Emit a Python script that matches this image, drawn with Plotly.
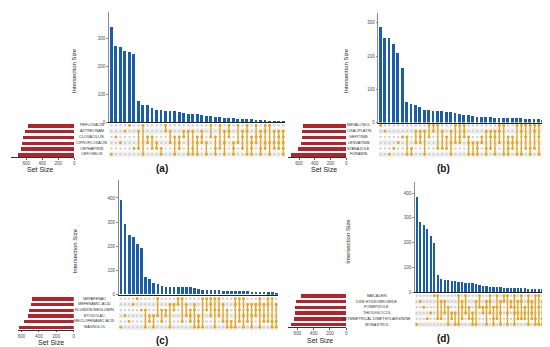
import plotly.graph_objects as go

W, H = 550, 347

# ---------------- data ----------------
a_sets = ["PEFLOXACIN", "AZTREONAM", "CLOXACILLIN", "CIPROFLOXACIN", "CEPHAPIRIN", "CEFOSELIS"]
a_set_sizes = [581, 613, 634, 647, 663, 697]
a_inter = [342, 274, 270, 256, 251, 244, 75, 63, 60, 50, 43, 43, 40, 40, 38, 36, 31, 30, 30, 30,
           26, 23, 21, 18, 17, 16, 14, 13, 12, 11, 11, 10, 8, 8, 8, 4, 3, 2, 2]
a_combos = [[5], [2], [3], [1], [0], [4],
            [1, 4], [0, 5], [2, 3], [2, 4], [3, 4], [4, 5], [0, 1], [1, 3], [2, 5], [2, 3, 4],
            [1, 2], [1, 5], [1, 4, 5], [2, 3, 5], [1, 2, 3], [3, 5], [0, 2], [2, 4, 5], [0, 4],
            [1, 3, 5], [0, 1, 2], [3, 4, 5], [0, 3], [1, 2, 4], [0, 1, 5], [2, 3, 4, 5], [0, 2, 3],
            [1, 2, 4, 5], [0, 1, 3, 4], [0, 3, 5], [1, 3, 4], [1, 2, 3, 4], [1, 2, 3, 4, 5]]

b_sets = ["MEVALONOL", "OXALIPLATIN", "GEFITINIB", "LENVATINIB", "STANAZOLE", "FURAMIN"]
b_set_sizes = [552, 560, 568, 573, 618, 706]
b_inter = [287, 255, 255, 238, 211, 163, 63, 56, 52, 46, 39, 38, 36, 36, 36, 33, 33, 30, 26, 22,
           22, 21, 18, 18, 17, 17, 15, 14, 14, 14, 14, 13, 13, 12, 12, 11, 10, 9, 9]
b_combos = [[0], [1], [5], [4], [3], [2],
            [2, 5], [4, 5], [1, 3], [1, 2, 3], [1, 5], [0, 2], [0, 1], [0, 4], [1, 4], [2, 4],
            [1, 3, 5], [0, 3], [0, 2, 3], [0, 1, 2], [2, 3, 5], [3, 5], [3, 4, 5], [2, 3],
            [1, 4, 5], [1, 2, 4], [1, 2, 5], [0, 1, 3], [0, 5], [2, 3, 4, 5], [2, 3, 4], [0, 3, 5],
            [0, 1, 5], [0, 2, 4], [0, 4, 5], [0, 1, 4], [0, 2, 5], [1, 2], [2, 4, 5]]

c_sets = ["NEPAFENAC", "MEFENAMIC ACID", "FLUNIXIN MEGLUMIN", "ETODOLAC", "MECLOFENAMIC ACID", "MAGNOLOL"]
c_set_sizes = [476, 491, 511, 522, 568, 629]
c_inter = [391, 291, 246, 236, 206, 192, 71, 62, 45, 44, 33, 31, 31, 31, 31, 31, 30, 30, 25, 20,
           19, 19, 17, 17, 16, 15, 14, 14, 13, 13, 12, 12, 11, 10, 10, 9, 8, 8, 7]
c_combos = [[5], [3], [4], [1], [0], [2],
            [2, 5], [3, 4], [3, 5], [0, 3], [2, 4], [2, 3], [1, 5], [1, 2], [0, 1], [0, 4], [1, 3],
            [2, 3, 4], [1, 2, 5], [3, 4, 5], [0, 5], [0, 2], [0, 1, 3], [0, 2, 5], [0, 2, 3],
            [1, 4], [2, 4, 5], [4, 5], [0, 1, 5], [0, 2, 4], [0, 3, 5], [1, 2, 4], [1, 3, 5],
            [1, 2, 3], [0, 1, 2, 5], [1, 3, 4], [0, 1, 4], [0, 4, 5], [1, 4, 5]]

d_sets = ["BAICALEIN", "DXM HYDROBROMIDE", "FOMEPIZOLE", "THIODIGLYCOL",
          "ASYMMETRICAL DIMETHYLARGININE", "MONASTROL"]
d_set_sizes = [551, 620, 633, 633, 640, 682]
d_inter = [384, 280, 268, 253, 226, 197, 68, 51, 49, 47, 45, 44, 39, 38, 37, 36, 35, 31, 26, 23,
           22, 21, 20, 19, 18, 17, 16, 16, 15, 15, 14, 14, 13, 13, 12, 12, 11, 11, 10]
d_combos = [[5], [1], [2], [4], [3], [0],
            [0, 4], [1, 4], [1, 3], [2, 5], [3, 4], [3, 5], [0, 5], [1, 2, 4], [0, 3], [2, 4],
            [3, 4, 5], [1, 5], [0, 2], [2, 3], [1, 2, 5], [0, 1, 3], [2, 4, 5], [0, 2, 4],
            [1, 3, 5], [0, 1], [0, 3, 5], [1, 2], [0, 2, 3, 5], [1, 3, 4], [0, 1, 4], [2, 3, 4],
            [0, 1, 5], [1, 2, 3, 4], [0, 4, 5], [0, 2, 5], [1, 4, 5], [2, 3, 5], [0, 1, 2, 3, 4]]

tags = ["(a)", "(b)", "(c)", "(d)"]
bar_ticks = [[0, 100, 200, 300], [0, 100, 200, 300], [0, 100, 200, 300, 400], [0, 100, 200, 300, 400]]
set_ticks = [0, 200, 400, 600]

# ---------------- layout geometry (pixels) ----------------
specs = [
    dict(bar_x=(101.5, 278.5), bar_y=(4, 115), ymax=396, mat_y=(115.5, 150.5), set_x=(3, 66.5), smax=790,
         label_x=84, ytitle=(67, 63), stitle=(31.7, 163), tag=(155, 162)),
    dict(bar_x=(371.8, 543.9), bar_y=(5, 115.5), ymax=330, mat_y=(115.5, 150.5), set_x=(281, 339.5), smax=740,
         label_x=352, ytitle=(340, 63), stitle=(316.7, 163), tag=(436.7, 162)),
    dict(bar_x=(111.2, 271.2), bar_y=(174, 289.3), ymax=472, mat_y=(290.4, 324.8), set_x=(10, 66), smax=641,
         label_x=87, ytitle=(66.7, 245), stitle=(42.7, 337.5), tag=(155, 335)),
    dict(bar_x=(408.5, 545), bar_y=(176, 286.7), ymax=443, mat_y=(287.4, 322.2), set_x=(281, 339.5), smax=716,
         label_x=370, ytitle=(341, 235), stitle=(313.3, 335.5), tag=(436.7, 333)),
]

panels = [
    (a_sets, a_set_sizes, a_inter, a_combos),
    (b_sets, b_set_sizes, b_inter, b_combos),
    (c_sets, c_set_sizes, c_inter, c_combos),
    (d_sets, d_set_sizes, d_inter, d_combos),
]

BLUE = "#1C5DA8"
RED = "#B2242B"
ORANGE = "#E6A51C"
GREYDOT = "#D3D3D3"
SHADE = "#F0F0F0"
TICKC = "#4D4D4D"
FONT = "Liberation Sans, Arial, sans-serif"


def px_x(a, b):
    return [a / W, b / W]


def px_y(top, bottom):
    return [1 - bottom / H, 1 - top / H]


def ax_names(k):
    return ("x" if k == 1 else f"x{k}", "y" if k == 1 else f"y{k}",
            "xaxis" if k == 1 else f"xaxis{k}", "yaxis" if k == 1 else f"yaxis{k}")


fig = go.Figure()
layout = {}
shapes = []
annotations = []

for p, (sets, sizes, inter, combos) in enumerate(panels):
    sp = specs[p]
    n = len(inter)
    nsets = len(sets)
    kb, km, ks = 3 * p + 1, 3 * p + 2, 3 * p + 3
    xb, yb, XB, YB = ax_names(kb)
    xm, ym, XM, YM = ax_names(km)
    xs, ys, XS, YS = ax_names(ks)

    # intersection bars
    fig.add_trace(go.Bar(x=list(range(n)), y=inter, width=0.64, marker=dict(color=BLUE, line=dict(width=0)),
                         xaxis=xb, yaxis=yb, hoverinfo="skip"))
    layout[XB] = dict(domain=px_x(*sp["bar_x"]), range=[-0.5, n - 0.5], anchor=yb, showgrid=False,
                      zeroline=False, showticklabels=False, ticks="", showline=True, linecolor="#222222",
                      linewidth=1)
    layout[YB] = dict(domain=px_y(*sp["bar_y"]), range=[0, sp["ymax"]], anchor=xb, showgrid=False,
                      zeroline=False, showline=True, linecolor="#8a8a8a", linewidth=0.8, ticks="outside",
                      ticklen=2, tickwidth=0.6, tickcolor="#8a8a8a", tickvals=bar_ticks[p],
                      tickfont=dict(size=4.5, color=TICKC, family=FONT))

    # matrix
    layout[XM] = dict(domain=px_x(*sp["bar_x"]), range=[-0.5, n - 0.5], anchor=ym, visible=False)
    layout[YM] = dict(domain=px_y(*sp["mat_y"]), range=[nsets - 0.5, -0.5], anchor=xm, visible=False)
    for r in range(nsets):
        if r % 2 == 1:
            shapes.append(dict(type="rect", xref=xm, yref=ym, x0=-0.5, x1=n - 0.5, y0=r - 0.5, y1=r + 0.5,
                               fillcolor=SHADE, line=dict(width=0), layer="below"))
    gx = [c for c in range(n) for r in range(nsets)]
    gy = [r for c in range(n) for r in range(nsets)]
    fig.add_trace(go.Scatter(x=gx, y=gy, mode="markers", marker=dict(size=2.6, color=GREYDOT),
                             xaxis=xm, yaxis=ym, hoverinfo="skip"))
    lx, ly = [], []
    for c, combo in enumerate(combos):
        if len(combo) > 1:
            lx += [c, c, None]
            ly += [min(combo), max(combo), None]
    fig.add_trace(go.Scatter(x=lx, y=ly, mode="lines", line=dict(color=ORANGE, width=1.3),
                             xaxis=xm, yaxis=ym, hoverinfo="skip"))
    ax_ = [c for c, combo in enumerate(combos) for r in combo]
    ay_ = [r for c, combo in enumerate(combos) for r in combo]
    fig.add_trace(go.Scatter(x=ax_, y=ay_, mode="markers", marker=dict(size=2.9, color=ORANGE),
                             xaxis=xm, yaxis=ym, hoverinfo="skip"))

    # set size bars
    fig.add_trace(go.Bar(x=sizes, y=list(range(nsets)), orientation="h", width=0.6,
                         marker=dict(color=RED, line=dict(width=0)), xaxis=xs, yaxis=ys, hoverinfo="skip"))
    layout[XS] = dict(domain=px_x(*sp["set_x"]), range=[sp["smax"], 0], anchor=ys, showgrid=False,
                      zeroline=False, showline=True, linecolor="#333333", linewidth=0.8, ticks="outside",
                      ticklen=1.5, tickwidth=0.6, tickcolor="#555555", tickvals=set_ticks,
                      tickfont=dict(size=4.6, color=TICKC, family=FONT))
    layout[YS] = dict(domain=px_y(*sp["mat_y"]), range=[nsets - 0.5, -0.5], anchor=xs, visible=False)

    # set names
    for r, name in enumerate(sets):
        annotations.append(dict(x=sp["label_x"] / W, xref="paper", y=r, yref=ym, text=name, showarrow=False,
                                xanchor="center", yanchor="middle",
                                font=dict(size=3.8, color="#333333", family=FONT)))
    # titles
    tx, ty = sp["ytitle"]
    annotations.append(dict(x=tx / W, y=1 - ty / H, xref="paper", yref="paper", text="Intersection Size",
                            textangle=-90, showarrow=False, xanchor="center", yanchor="middle",
                            font=dict(size=6, color="#222222", family=FONT)))
    sx, sy = sp["stitle"]
    annotations.append(dict(x=sx / W, y=1 - sy / H, xref="paper", yref="paper", text="Set Size",
                            showarrow=False, xanchor="center", yanchor="middle",
                            font=dict(size=7, color="#222222", family=FONT)))
    gx_, gy_ = sp["tag"]
    annotations.append(dict(x=gx_ / W, y=1 - gy_ / H, xref="paper", yref="paper", text="<b>" + tags[p] + "</b>",
                            showarrow=False, xanchor="center", yanchor="middle",
                            font=dict(size=10, color="#111111", family=FONT)))

fig.update_layout(
    width=W, height=H, margin=dict(l=0, r=0, t=0, b=0), showlegend=False,
    paper_bgcolor="white", plot_bgcolor="rgba(0,0,0,0)", bargap=0,
    shapes=shapes, annotations=annotations, **layout
)

fig.write_html("out.html")
